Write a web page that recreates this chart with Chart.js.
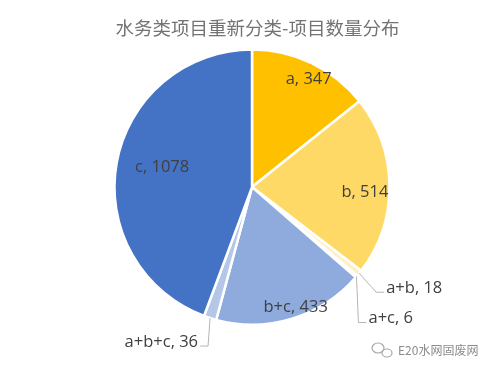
<!DOCTYPE html>
<html>
<head>
<meta charset="utf-8">
<style>
  html, body { margin: 0; padding: 0; background: #fff; overflow: hidden; }
  #box { width: 494px; height: 372px; position: relative; }
</style>
<script src="https://cdn.jsdelivr.net/npm/chart.js@4/dist/chart.umd.min.js"></script>
</head>
<body>
<div id="box"><canvas id="grafica"></canvas></div>
<script>
// ── DATOS ─────────────────────────────────────────────
const categorias = ['a', 'b', 'a+b', 'a+c', 'b+c', 'a+b+c', 'c'];
const valores    = [347, 514, 18, 6, 433, 36, 1078];
const colores    = ['#FFC000', '#FFD966', '#FFF0C4', '#FFF6DC', '#8FAADC', '#B4C7E7', '#4472C4'];
const titulo     = '水务类项目重新分类-项目数量分布';
const marcaAgua  = 'E20水网固废网';

// etiquetas dentro del pastel: [radio, ajuste de ángulo en grados]
const etiquetasDentro = { 'a': [122, 2], 'b': [113, 3], 'b+c': [128, -3], 'c': [92, 2] };
// etiquetas fuera: codo de la línea guía y final, relativos al borde del sector
const etiquetasFuera = {
    'a+b':   [[17, 19], [25, 19]],
    'a+c':   [[2, 46], [10, 46]],
    'a+b+c': [[-2, 28], [-10, 28]]
};

const fuenteTexto = '16.5px "Open Sans", "Noto Sans", sans-serif';

const pluginEtiquetas = {
    id: 'etiquetas',
    afterLayout(chart) {
        // el título del original está algo a la derecha del pastel
        chart.titleBlock.left += 11;
    },
    afterDatasetsDraw(chart) {
        const c = chart.ctx;
        const arcos = chart.getDatasetMeta(0).data;
        c.save();
        c.font = fuenteTexto;
        c.textBaseline = 'middle';
        arcos.forEach((arco, i) => {
            const cat = categorias[i];
            const texto = cat + ', ' + valores[i];
            const medio = (arco.startAngle + arco.endAngle) / 2;
            if (etiquetasDentro[cat]) {
                const [r, giro] = etiquetasDentro[cat];
                const ang = medio + giro * Math.PI / 180;
                c.fillStyle = '#404040';
                c.textAlign = 'center';
                c.fillText(texto, arco.x + r * Math.cos(ang), arco.y + r * Math.sin(ang));
            } else {
                const x0 = arco.x + arco.outerRadius * Math.cos(medio);
                const y0 = arco.y + arco.outerRadius * Math.sin(medio);
                const [codo, fin] = etiquetasFuera[cat];
                c.strokeStyle = '#b5b5b5';
                c.lineWidth = 1;
                c.beginPath();
                c.moveTo(x0, y0);
                c.lineTo(x0 + codo[0], y0 + codo[1]);
                c.lineTo(x0 + fin[0], y0 + fin[1]);
                c.stroke();
                const dir = fin[0] > codo[0] ? 1 : -1;
                c.fillStyle = '#404040';
                c.textAlign = dir > 0 ? 'left' : 'right';
                c.fillText(texto, x0 + fin[0] + dir * 2, y0 + fin[1] - 4);
            }
        });

        // marca de agua abajo a la derecha
        c.strokeStyle = '#a8a8a8';
        c.lineWidth = 1.2;
        c.beginPath();
        c.ellipse(378, 348, 6, 5, 0, 0, Math.PI * 2);
        c.stroke();
        c.beginPath();
        c.ellipse(387, 353, 5, 4, 0, 0, Math.PI * 2);
        c.stroke();
        c.font = '12px "Noto Sans CJK SC", sans-serif';
        c.fillStyle = '#8c8c8c';
        c.textAlign = 'left';
        c.fillText(marcaAgua, 398, 350);
        c.restore();
    }
};

document.addEventListener('DOMContentLoaded', function () {
    new Chart(document.getElementById('grafica'), {
        type: 'pie',
        data: {
            labels: categorias,
            datasets: [{
                data: valores,
                backgroundColor: colores,
                borderColor: '#ffffff',
                borderWidth: 2.5
            }]
        },
        options: {
            responsive: true,
            maintainAspectRatio: false,
            animation: false,
            radius: 137.5,
            layout: { padding: { left: 10, right: 0, top: 0, bottom: 46 } },
            plugins: {
                legend: { display: false },
                tooltip: { enabled: false },
                title: {
                    display: true,
                    text: titulo,
                    color: '#737373',
                    font: { family: '"Noto Sans CJK SC", sans-serif', size: 18.5, weight: 'normal' },
                    padding: { top: 17, bottom: 9 }
                }
            }
        },
        plugins: [pluginEtiquetas]
    });
});
</script>
</body>
</html>
